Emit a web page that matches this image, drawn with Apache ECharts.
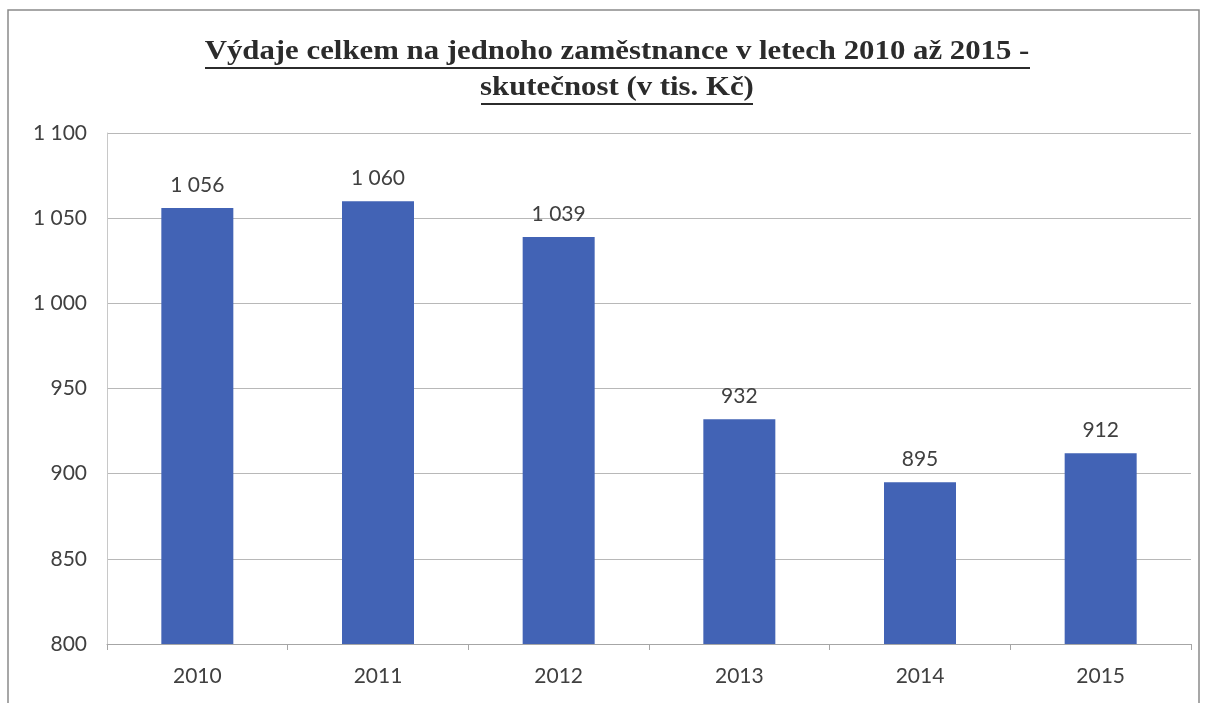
<!DOCTYPE html>
<html><head><meta charset="utf-8">
<script src="https://cdn.jsdelivr.net/npm/echarts@6/dist/echarts.min.js"></script>
<style>html,body{margin:0;padding:0;background:#fff}#c{width:1213px;height:703px}</style>
</head><body><div id="c"></div>
<script>
const categories = ['2010','2011','2012','2013','2014','2015'];
const values = [1056, 1060, 1039, 932, 895, 912];
const titleLines = ['Výdaje celkem na jednoho zaměstnance v letech 2010 až 2015 -', 'skutečnost (v tis. Kč)'];

function fmt(v){ return String(v).replace(/\B(?=(\d{3})+(?!\d))/g, ' '); }

const chart = echarts.init(document.getElementById('c'));
const titleFont = {fontFamily:'Liberation Serif', fontWeight:'bold', fontSize:28, fill:'#2b2b2b', textAlign:'center', textVerticalAlign:'top'};
const lblFont = 'Lato, Carlito, sans-serif';
chart.setOption({
  animation:false,
  backgroundColor:'#fff',
  graphic:[
    {type:'rect', shape:{x:8,y:10,width:1191,height:700}, style:{fill:'none', stroke:'#8a8a8a', lineWidth:1.5}, silent:true},
    {type:'text', x:617, y:38, scaleX:1.1, style:Object.assign({text:titleLines[0]}, titleFont)},
    {type:'text', x:617, y:74, scaleX:1.1, style:Object.assign({text:titleLines[1]}, titleFont)},
    {type:'line', shape:{x1:205,y1:68,x2:1030,y2:68}, style:{stroke:'#2b2b2b', lineWidth:2}},
    {type:'line', shape:{x1:481,y1:104,x2:753,y2:104}, style:{stroke:'#2b2b2b', lineWidth:2}}
  ],
  grid:{left:107, right:22, top:133, bottom:59},
  xAxis:{type:'category', data:categories,
    axisLine:{lineStyle:{color:'#a6a6a6'}},
    axisTick:{show:true, length:6, lineStyle:{color:'#a6a6a6'}},
    axisLabel:{color:'#404040', fontSize:21, fontFamily:lblFont, margin:22}},
  yAxis:{type:'value', min:800, max:1100, interval:50,
    axisLine:{show:true, lineStyle:{color:'#c8c8c8'}},
    axisTick:{show:false},
    splitLine:{lineStyle:{color:'#b8b8b8'}},
    axisLabel:{color:'#404040', fontSize:21, fontFamily:lblFont, margin:20, formatter:v=>fmt(v)}},
  series:[{type:'bar', data:values, barWidth:72, itemStyle:{color:'#4263b5'},
    label:{show:true, position:'top', distance:12, color:'#404040', fontSize:21, fontFamily:lblFont, formatter:p=>fmt(p.value)}}]
});
</script></body></html>
